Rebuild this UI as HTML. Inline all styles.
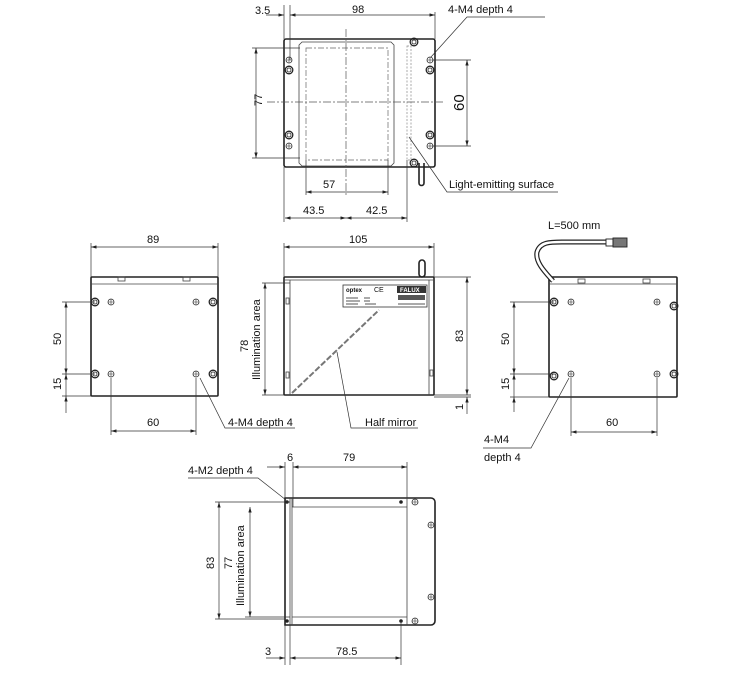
<!DOCTYPE html>
<html><head><meta charset="utf-8"><style>
html,body{margin:0;padding:0;background:#fff;}
svg{display:block;font-family:"Liberation Sans",Arial,sans-serif;}
.o{fill:none;stroke:#222;stroke-width:1.6}
.t{fill:none;stroke:#444;stroke-width:0.8}
.d{fill:none;stroke:#333;stroke-width:0.7}
.c{fill:none;stroke:#555;stroke-width:0.7;stroke-dasharray:8 2 2 2}
text{font-size:11px;fill:#111}
</style></head><body>
<svg width="730" height="674" viewBox="0 0 730 674">
<defs>
<marker id="a" viewBox="0 0 10 6" refX="10" refY="3" markerWidth="8" markerHeight="5" orient="auto-start-reverse"><path d="M0,0L10,3L0,6z" fill="#222"/></marker>
<g id="h"><circle r="3" fill="none" stroke="#333" stroke-width="0.8"/><path d="M-3,0H3M0,-3V3" stroke="#333" stroke-width="0.6"/></g>
<g id="H"><circle r="3.8" fill="none" stroke="#222" stroke-width="1.3"/><circle r="2" fill="none" stroke="#222" stroke-width="0.8"/></g>
</defs>

<!-- ===== TOP VIEW ===== -->
<rect class="o" x="284" y="39" width="151" height="128" rx="2"/>
<path class="t" d="M299,45 L302,42 H391 L394,45 V163 L391,166 H302 L299,163 Z"/>
<rect x="306" y="48" width="82" height="112" fill="none" stroke="#666" stroke-width="0.7" stroke-dasharray="6 2 2 2"/>
<rect x="407" y="46" width="4" height="114" fill="none" stroke="#888" stroke-width="0.7" stroke-dasharray="2 1.5"/>
<path class="c" d="M346,29V195M267,102H443"/>
<use href="#h" x="289" y="60"/><use href="#H" x="289" y="70"/><use href="#H" x="289" y="135"/><use href="#h" x="289" y="146"/>
<use href="#h" x="430" y="60"/><use href="#H" x="430" y="70"/><use href="#H" x="430" y="135"/><use href="#h" x="430" y="146"/>
<use href="#H" x="414" y="42"/><use href="#H" x="414" y="163"/>
<path class="o" d="M419,163V183a2.5,2.5 0 0 0 5,0V163" stroke-width="1.1"/>
<path class="d" d="M284,5V39M290,5V60M435,12V39M407,160V222M284,167V222M306,160V195M388,160V195"/>
<path class="d" d="M266,15H284" marker-end="url(#a)"/>
<path class="d" d="M290,15H435" marker-start="url(#a)" marker-end="url(#a)"/>
<text x="255" y="14">3.5</text><text x="352" y="13">98</text>
<path class="d" d="M252,48H300M252,158H300"/>
<path class="d" d="M256,48V158" marker-start="url(#a)" marker-end="url(#a)"/>
<text transform="translate(262,106) rotate(-90)">77</text>
<path class="d" d="M432,60H471M432,146H471"/>
<path class="d" d="M467,60V146" marker-start="url(#a)" marker-end="url(#a)"/>
<text transform="translate(464,111) rotate(-90)" style="font-size:15px">60</text>
<path class="d" d="M306,192H388" marker-start="url(#a)" marker-end="url(#a)"/>
<text x="323" y="188">57</text>
<path class="d" d="M285,218H346" marker-start="url(#a)" marker-end="url(#a)"/>
<path class="d" d="M346,218H407" marker-start="url(#a)" marker-end="url(#a)"/>
<text x="303" y="214">43.5</text><text x="366" y="214">42.5</text>
<path class="d" d="M431,57L467,17H545"/>
<text x="448" y="13">4-M4 depth 4</text>
<path class="d" d="M409,137L447,192H558"/>
<text x="449" y="188">Light-emitting surface</text>

<!-- ===== LEFT SIDE VIEW ===== -->
<rect class="o" x="91" y="277" width="127" height="119" rx="1"/>
<path class="t" d="M91,284H218"/>
<rect class="t" x="118" y="277" width="7" height="4"/><rect class="t" x="183" y="277" width="7" height="4"/>
<use href="#H" x="95" y="302"/><use href="#h" x="111" y="302"/><use href="#h" x="196" y="302"/><use href="#H" x="213" y="302"/>
<use href="#H" x="95" y="374"/><use href="#h" x="111" y="374"/><use href="#h" x="196" y="374"/><use href="#H" x="213" y="374"/>
<path class="d" d="M91,243V277M218,243V277"/>
<path class="d" d="M91,247H218" marker-start="url(#a)" marker-end="url(#a)"/>
<text x="147" y="243">89</text>
<path class="d" d="M62,302H95M62,374H95M62,396H91"/>
<path class="d" d="M66,302V374" marker-start="url(#a)" marker-end="url(#a)"/>
<path class="d" d="M66,374V396" marker-start="url(#a)"/><path class="d" d="M66,413V396" marker-end="url(#a)"/>
<text transform="translate(61,345) rotate(-90)">50</text>
<text transform="translate(61,390) rotate(-90)">15</text>
<path class="d" d="M111,378V435M196,378V435"/>
<path class="d" d="M111,431H196" marker-start="url(#a)" marker-end="url(#a)"/>
<text x="147" y="426">60</text>
<path class="d" d="M295,428H225L200,378"/>
<text x="228" y="426">4-M4 depth 4</text>

<!-- ===== FRONT VIEW ===== -->
<rect class="o" x="284" y="277" width="150" height="118" rx="1"/>
<path class="t" d="M290,280V395M429,280V395M284,280H434"/>
<rect class="t" x="286" y="298" width="3" height="6"/><rect class="t" x="286" y="372" width="3" height="6"/>
<rect class="t" x="430" y="370" width="3" height="6"/>
<rect class="o" x="419" y="260" width="6" height="17" rx="3" stroke-width="1"/>
<rect x="343" y="285" width="84" height="22" fill="none" stroke="#333" stroke-width="0.8"/>
<text x="346" y="292" style="font-size:6px;font-weight:bold">optex</text>
<text x="374" y="292" style="font-size:7px">CE</text>
<rect x="397" y="286" width="29" height="7" fill="#333"/><text x="400" y="292" style="font-size:6px;fill:#fff;font-weight:bold">FALUX</text>
<rect x="398" y="295" width="27" height="5" fill="#555"/>
<path d="M346,298H358M346,301H360M346,304H358M364,298H370M364,301H370M365,304H376M398,304H425" stroke="#555" stroke-width="1"/>
<path d="M292,393L379,310" stroke="#777" stroke-width="2" stroke-dasharray="6 2" fill="none"/>
<path class="d" d="M284,243V277M434,243V277"/>
<path class="d" d="M284,247H434" marker-start="url(#a)" marker-end="url(#a)"/>
<text x="349" y="243">105</text>
<path class="d" d="M262,283H290M262,395H284"/>
<path class="d" d="M265,283V395" marker-start="url(#a)" marker-end="url(#a)"/>
<text transform="translate(248,352) rotate(-90)">78</text>
<text transform="translate(260,380) rotate(-90)">Illumination area</text>
<path class="d" d="M434,277H471M434,395H471M434,397H471"/>
<path class="d" d="M467,277V395" marker-start="url(#a)" marker-end="url(#a)"/>
<path class="d" d="M467,414V397" marker-end="url(#a)"/>
<text transform="translate(463,342) rotate(-90)">83</text>
<text transform="translate(463,410) rotate(-90)">1</text>
<path class="d" d="M337,352L351,428H418"/>
<text x="365" y="426">Half mirror</text>

<!-- ===== RIGHT SIDE VIEW ===== -->
<rect class="o" x="549" y="277" width="128" height="120" rx="1"/>
<path class="t" d="M549,284H677"/>
<rect class="t" x="578" y="279" width="7" height="4"/><rect class="t" x="643" y="279" width="7" height="4"/>
<use href="#H" x="554" y="302"/><use href="#h" x="571" y="302"/><use href="#h" x="657" y="302"/><use href="#H" x="674" y="306"/>
<use href="#H" x="554" y="376"/><use href="#h" x="571" y="374"/><use href="#h" x="657" y="374"/><use href="#H" x="674" y="374"/>
<path d="M553,281C545,272 535,262 537,252C540,242 550,242 562,242H606" fill="none" stroke="#222" stroke-width="5"/>
<path d="M553,281C545,272 535,262 537,252C540,242 550,242 562,242H606" fill="none" stroke="#fff" stroke-width="2.6"/>
<rect x="606" y="239" width="7" height="7" fill="#fff" stroke="#222" stroke-width="0.9"/>
<rect x="613" y="238" width="14" height="9" fill="#777" stroke="#222" stroke-width="0.9"/>
<text x="548" y="229">L=500 mm</text>
<path class="d" d="M510,302H554M510,374H554M510,397H549"/>
<path class="d" d="M514,302V374" marker-start="url(#a)" marker-end="url(#a)"/>
<path class="d" d="M514,374V397" marker-start="url(#a)"/><path class="d" d="M514,412V397" marker-end="url(#a)"/>
<text transform="translate(509,345) rotate(-90)">50</text>
<text transform="translate(509,390) rotate(-90)">15</text>
<path class="d" d="M571,378V436M657,378V436"/>
<path class="d" d="M571,432H657" marker-start="url(#a)" marker-end="url(#a)"/>
<text x="606" y="426">60</text>
<path class="d" d="M483,448H531L569,378"/>
<text x="484" y="443">4-M4</text><text x="484" y="461">depth 4</text>

<!-- ===== BOTTOM VIEW ===== -->
<path class="o" d="M285,498H431a4,4 0 0 1 4,4V621a4,4 0 0 1 -4,4H285Z"/>
<path class="t" d="M290,498V625M292,498V625M292,507H407M292,617H407M407,498V625"/>
<circle cx="287" cy="502" r="1.8" fill="#222"/><circle cx="401" cy="502" r="1.8" fill="#222"/>
<circle cx="287" cy="621" r="1.8" fill="#222"/><circle cx="401" cy="621" r="1.8" fill="#222"/>
<use href="#h" x="415" y="502"/><use href="#h" x="431" y="525"/><use href="#h" x="431" y="597"/><use href="#h" x="415" y="621"/>
<path class="d" d="M285,462V498M293,462V507M407,462V498"/>
<path class="d" d="M267,467H285" marker-end="url(#a)"/>
<path class="d" d="M293,467H407" marker-start="url(#a)" marker-end="url(#a)"/>
<text x="287" y="461">6</text><text x="343" y="461">79</text>
<path class="d" d="M215,502H290M245,617H290M215,619H285"/>
<path class="d" d="M219,502V619" marker-start="url(#a)" marker-end="url(#a)"/>
<path class="d" d="M250,507V617" marker-start="url(#a)" marker-end="url(#a)"/>
<text transform="translate(214,569) rotate(-90)">83</text>
<text transform="translate(232,569) rotate(-90)">77</text>
<text transform="translate(244,606) rotate(-90)">Illumination area</text>
<path class="d" d="M285,625V665M290,625V665M401,621V665"/>
<path class="d" d="M266,658H285" marker-end="url(#a)"/>
<path class="d" d="M290,658H401" marker-start="url(#a)" marker-end="url(#a)"/>
<text x="265" y="655">3</text><text x="336" y="655">78.5</text>
<path class="d" d="M188,478H258L286,500"/>
<text x="188" y="474">4-M2 depth 4</text>
</svg>
</body></html>
